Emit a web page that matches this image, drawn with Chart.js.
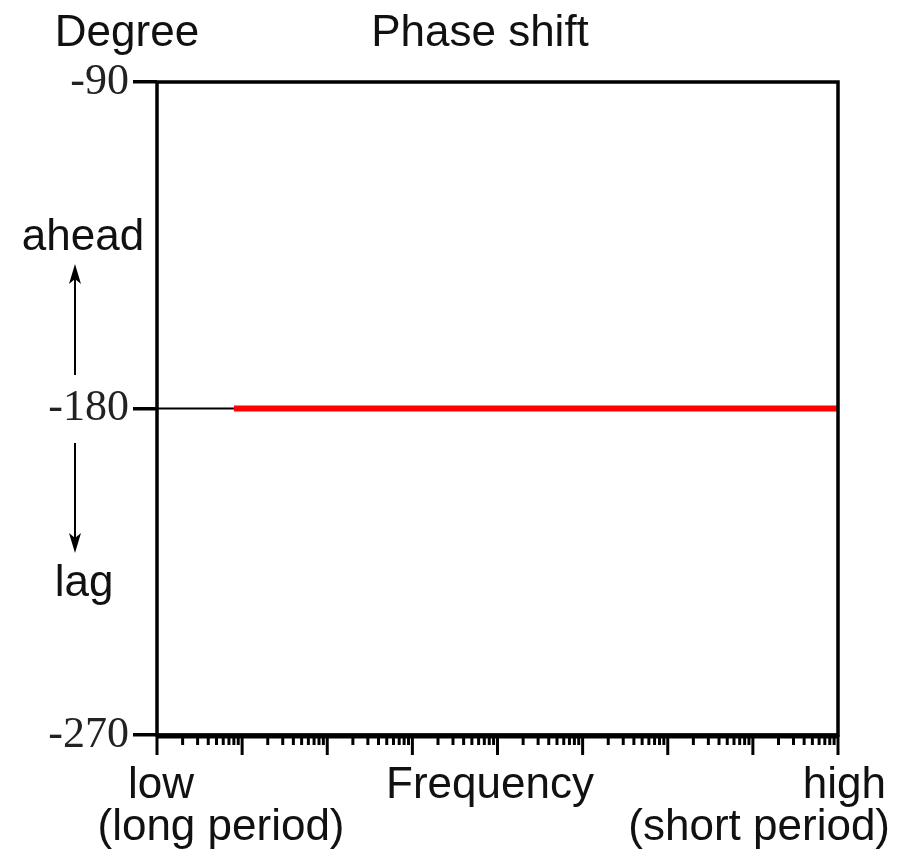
<!DOCTYPE html>
<html>
<head>
<meta charset="utf-8">
<script src="https://cdn.jsdelivr.net/npm/chart.js@4/dist/chart.umd.min.js"></script>
<style>
  html, body { margin: 0; padding: 0; background: #fff; }
  #wrap { width: 915px; height: 858px; }
</style>
</head>
<body>
<div id="wrap"><canvas id="myChart" width="915" height="858"></canvas></div>
<script>
'use strict';

// frequency runs over 8 decades, low -> high
let freqMin = 1;
let freqMax = 1e8;
let yTicks = [-90, -180, -270];

// thin black part then the red phase line at -180
let blackX = [1, 8];
let blackY = [-180, -180];
let redX = [8, 1e8];
let redY = [-180, -180];

let sansFont = '"Liberation Sans", Arial, sans-serif';

function toPoints(xs, ys) {
  let pts = [];
  for (let i = 0; i < xs.length; i++) {
    pts.push({ x: xs[i], y: ys[i] });
  }
  return pts;
}

// ticks 1..9 for each decade
function allLogTicks() {
  let t = [];
  for (let d = freqMin; d < freqMax; d *= 10) {
    for (let m = 1; m < 10; m++) t.push(d * m);
  }
  t.push(freqMax);
  return t;
}

let framePlugin = {
  id: 'frame',
  afterDraw(chart) {
    let ctx = chart.ctx;
    let a = chart.chartArea;
    let xs = chart.scales.x;
    ctx.save();
    ctx.strokeStyle = '#000';

    // box around plot
    ctx.lineWidth = 3.5;
    ctx.strokeRect(a.left, a.top, a.right - a.left, a.bottom - a.top);
    // bottom axis is heavier
    ctx.lineWidth = 5;
    ctx.beginPath();
    ctx.moveTo(a.left, a.bottom + 1);
    ctx.lineTo(a.right, a.bottom + 1);
    ctx.stroke();

    // x ticks: long at decades, short between
    let ticks = allLogTicks();
    for (let i = 0; i < ticks.length; i++) {
      let v = ticks[i];
      let px = xs.getPixelForValue(v);
      let major = Math.abs(Math.log10(v) - Math.round(Math.log10(v))) < 1e-9;
      ctx.lineWidth = 3;
      ctx.beginPath();
      ctx.moveTo(px, a.bottom);
      ctx.lineTo(px, a.bottom + (major ? 20 : 10));
      ctx.stroke();
    }

    // arrows on the left
    ctx.lineWidth = 2;
    ctx.fillStyle = '#000';
    ctx.beginPath();
    ctx.moveTo(75, 375); ctx.lineTo(75, 272);
    ctx.moveTo(75, 443); ctx.lineTo(75, 545);
    ctx.stroke();
    ctx.beginPath();
    ctx.moveTo(75, 264); ctx.lineTo(69, 284); ctx.lineTo(75, 279); ctx.lineTo(81, 284); ctx.closePath();
    ctx.fill();
    ctx.beginPath();
    ctx.moveTo(75, 553); ctx.lineTo(69, 533); ctx.lineTo(75, 538); ctx.lineTo(81, 533); ctx.closePath();
    ctx.fill();

    // labels
    ctx.fillStyle = '#111';
    ctx.font = '44px ' + sansFont;
    ctx.textBaseline = 'alphabetic';
    ctx.textAlign = 'center';
    ctx.fillText('Degree', 127, 46);
    ctx.fillText('Phase shift', 480, 46);
    ctx.fillText('ahead', 83, 250);
    ctx.fillText('lag', 84, 596);
    ctx.fillText('low', 161, 798);
    ctx.fillText('(long period)', 221, 840);
    ctx.fillText('Frequency', 490, 798);
    ctx.textAlign = 'right';
    ctx.fillText('high', 886, 798);
    ctx.fillText('(short period)', 890, 840);
    ctx.restore();
  }
};

let ctx = document.getElementById('myChart').getContext('2d');
let myChart = new Chart(ctx, {
  type: 'line',
  data: {
    datasets: [{
      label: 'base',
      data: toPoints(blackX, blackY),
      borderColor: '#000',
      borderWidth: 2,
      pointRadius: 0
    }, {
      label: 'phase',
      data: toPoints(redX, redY),
      borderColor: '#ff0000',
      borderWidth: 6,
      pointRadius: 0
    }]
  },
  options: {
    responsive: false,
    animation: false,
    layout: { padding: { left: 0, top: 82, right: 77, bottom: 0 } },
    plugins: {
      legend: { display: false },
      tooltip: { enabled: false }
    },
    scales: {
      x: {
        type: 'logarithmic',
        min: freqMin,
        max: freqMax,
        border: { display: false },
        grid: { display: false },
        ticks: { display: false },
        afterFit(scale) { scale.height = 123; }
      },
      y: {
        type: 'linear',
        min: -270,
        max: -90,
        afterBuildTicks(scale) {
          scale.ticks = yTicks.map(v => ({ value: v }));
        },
        border: { display: false },
        grid: {
          drawOnChartArea: false,
          drawTicks: true,
          tickLength: 24,
          lineWidth: 3.5,
          color: '#000'
        },
        ticks: {
          color: '#222',
          padding: 4,
          font: { family: '"Liberation Serif", "Times New Roman", serif', size: 44 }
        },
        afterFit(scale) { scale.width = 157; }
      }
    }
  },
  plugins: [framePlugin]
});
</script>
</body>
</html>
